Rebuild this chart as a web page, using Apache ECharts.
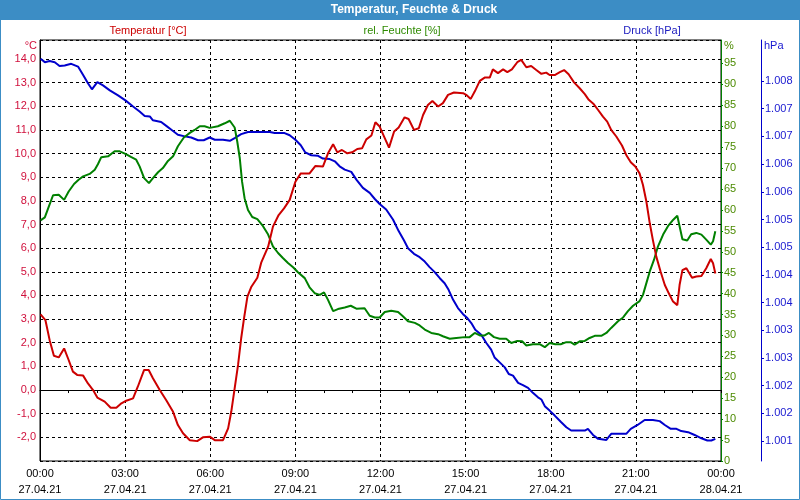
<!DOCTYPE html>
<html><head><meta charset="utf-8">
<script src="https://cdn.jsdelivr.net/npm/echarts@6/dist/echarts.min.js"></script>
<style>html,body{margin:0;padding:0;background:#fff}#c{width:800px;height:500px}</style>
</head><body><div id="c"></div>
<script>
// time in hours since 27.04.21 00:00
const tempTime = [0.02,0.19,0.34,0.49,0.66,0.85,1.01,1.16,1.31,1.52,1.69,1.87,2.02,2.28,2.49,2.69,2.87,3.04,3.28,3.45,3.67,3.83,3.98,4.22,4.45,4.69,4.86,5.04,5.28,5.54,5.74,5.98,6.16,6.45,6.63,6.74,6.86,6.98,7.09,7.19,7.31,7.45,7.66,7.80,8.04,8.21,8.41,8.60,8.80,9.00,9.19,9.50,9.70,9.97,10.15,10.33,10.48,10.64,10.83,11.00,11.18,11.35,11.50,11.68,11.82,11.97,12.15,12.30,12.48,12.64,12.85,12.99,13.18,13.35,13.50,13.67,13.83,14.03,14.20,14.38,14.59,14.91,15.02,15.18,15.32,15.50,15.67,15.85,15.96,16.14,16.32,16.47,16.63,16.82,16.96,17.14,17.31,17.49,17.67,17.84,17.96,18.14,18.32,18.47,18.63,18.82,19.02,19.20,19.34,19.52,19.67,19.84,19.99,20.13,20.31,20.51,20.66,20.82,20.98,21.13,21.25,21.37,21.49,21.60,21.72,21.87,22.02,22.16,22.31,22.46,22.54,22.64,22.78,22.98,23.13,23.31,23.48,23.64,23.72,23.80];
const tempValues = [3.2,2.96,2.11,1.45,1.38,1.76,1.27,0.78,0.64,0.61,0.28,0.0,-0.32,-0.49,-0.75,-0.75,-0.56,-0.45,-0.35,0.15,0.85,0.85,0.5,0.0,-0.43,-0.92,-1.48,-1.83,-2.12,-2.16,-2.0,-1.97,-2.12,-2.12,-1.62,-0.92,0.07,1.06,2.19,3.03,3.95,4.37,4.75,5.4,6.06,6.91,7.4,7.68,8.04,8.81,9.16,9.16,9.47,9.45,10.01,10.39,10.05,10.15,10.01,10.05,10.19,10.22,10.6,10.76,11.32,11.14,10.65,10.25,10.93,11.1,11.53,11.46,11.0,11.07,11.63,12.05,12.22,11.99,12.13,12.48,12.58,12.55,12.48,12.31,12.62,13.07,13.21,13.21,13.56,13.4,13.56,13.44,13.56,13.86,13.96,13.65,13.7,13.53,13.37,13.42,13.32,13.32,13.44,13.53,13.35,13.01,12.76,12.51,12.27,12.08,11.84,11.56,11.35,11.0,10.72,10.34,9.94,9.63,9.45,9.16,8.67,7.97,7.05,6.34,5.64,5.01,4.44,4.09,3.74,3.59,4.44,5.07,5.15,4.75,4.8,4.82,5.15,5.54,5.36,4.93];

const humTime = [0.02,0.17,0.31,0.46,0.66,0.85,1.01,1.20,1.36,1.52,1.75,1.93,2.04,2.16,2.40,2.63,2.81,3.01,3.22,3.39,3.51,3.67,3.84,3.98,4.16,4.33,4.51,4.69,4.86,5.07,5.28,5.45,5.63,5.80,5.98,6.27,6.51,6.69,6.86,6.95,7.04,7.12,7.21,7.33,7.48,7.66,7.86,8.04,8.21,8.39,8.56,8.74,8.92,9.09,9.33,9.50,9.68,9.86,10.01,10.15,10.33,10.50,10.74,10.95,11.15,11.44,11.62,11.80,11.97,12.15,12.38,12.62,12.79,12.97,13.21,13.38,13.56,13.79,14.03,14.20,14.44,14.67,14.97,15.14,15.32,15.50,15.67,15.82,16.00,16.20,16.43,16.61,16.82,16.99,17.14,17.37,17.61,17.79,17.96,18.16,18.35,18.55,18.70,18.84,19.02,19.20,19.37,19.55,19.78,19.96,20.13,20.37,20.55,20.72,20.90,21.13,21.25,21.37,21.49,21.64,21.78,21.96,22.13,22.31,22.46,22.54,22.64,22.81,22.95,23.13,23.31,23.48,23.64,23.72,23.80];
const humValues = [57.5,58.2,60.8,63.5,63.6,62.4,64.4,66.2,67.2,68.0,68.6,69.6,70.9,72.6,72.8,74.0,74.0,73.4,72.6,72.0,70.4,67.6,66.4,67.6,69.0,70.0,71.7,72.8,75.2,77.3,78.4,79.1,80.0,80.0,79.6,80.0,80.7,81.3,79.7,76.4,72.4,66.8,62.8,60.0,58.3,57.8,56.1,54.1,51.3,49.7,48.5,47.3,46.3,45.1,43.7,41.5,40.1,39.7,40.3,38.5,35.8,36.3,36.7,37.1,36.4,36.5,34.7,34.3,34.3,35.6,35.9,35.6,34.6,33.4,33.0,32.4,31.4,30.6,30.3,29.8,29.2,29.4,29.6,29.6,30.6,30.0,30.0,30.6,29.6,29.2,29.2,28.2,28.7,28.6,27.6,27.9,27.9,27.2,28.2,27.9,27.9,28.4,28.4,27.8,28.6,28.7,29.4,29.9,29.9,30.6,31.8,33.4,34.3,35.8,37.1,38.2,39.7,42.5,45.3,48.1,51.3,54.1,56.1,57.6,58.6,56.1,53.0,52.7,54.2,54.5,54.1,52.9,51.7,52.5,54.9];

const pressTime = [0.02,0.17,0.34,0.52,0.69,0.87,1.10,1.34,1.52,1.69,1.83,2.02,2.22,2.46,2.75,3.01,3.28,3.51,3.69,3.87,3.98,4.27,4.45,4.63,4.86,5.10,5.33,5.57,5.77,5.98,6.16,6.45,6.69,6.86,7.09,7.33,7.68,8.10,8.27,8.62,8.80,9.00,9.19,9.35,9.56,9.80,9.97,10.21,10.39,10.56,10.74,10.97,11.15,11.38,11.62,11.80,11.97,12.20,12.44,12.64,12.83,12.97,13.18,13.38,13.56,13.73,13.91,14.09,14.26,14.40,14.56,14.73,14.91,15.06,15.20,15.34,15.55,15.73,15.90,16.02,16.20,16.38,16.52,16.67,16.85,17.02,17.20,17.37,17.55,17.67,17.79,17.96,18.14,18.37,18.55,18.72,18.96,19.20,19.31,19.49,19.67,19.96,20.13,20.37,20.66,20.82,21.06,21.31,21.60,21.84,22.02,22.23,22.43,22.60,22.84,23.07,23.31,23.52,23.66,23.80];
const pressValues = [1007.90,1007.84,1007.86,1007.84,1007.77,1007.78,1007.81,1007.76,1007.61,1007.46,1007.35,1007.48,1007.42,1007.33,1007.24,1007.15,1007.04,1006.95,1006.87,1006.86,1006.79,1006.76,1006.69,1006.62,1006.53,1006.50,1006.48,1006.43,1006.43,1006.48,1006.44,1006.44,1006.42,1006.47,1006.54,1006.58,1006.58,1006.58,1006.56,1006.56,1006.52,1006.44,1006.34,1006.21,1006.16,1006.15,1006.10,1006.09,1006.05,1005.96,1005.90,1005.86,1005.72,1005.57,1005.48,1005.37,1005.28,1005.18,1005.00,1004.79,1004.62,1004.48,1004.38,1004.32,1004.24,1004.14,1004.05,1003.94,1003.85,1003.73,1003.55,1003.40,1003.29,1003.22,1003.13,1003.01,1002.92,1002.77,1002.65,1002.51,1002.42,1002.33,1002.21,1002.18,1002.05,1002.01,1001.96,1001.87,1001.79,1001.75,1001.63,1001.55,1001.46,1001.34,1001.25,1001.19,1001.19,1001.19,1001.22,1001.11,1001.04,1001.02,1001.13,1001.13,1001.13,1001.22,1001.29,1001.38,1001.38,1001.36,1001.29,1001.22,1001.22,1001.18,1001.16,1001.11,1001.05,1001.01,1001.01,1001.04];

const humidityTicks = [0,5,10,15,20,25,30,35,40,45,50,55,60,65,70,75,80,85,90,95];
const pressureTicks = [1001,1001.5,1002,1002.5,1003,1003.5,1004,1004.5,1005,1005.5,1006,1006.5,1007,1007.5];
const dateLabels = ['27.04.21','28.04.21'];

const FONT = 'Liberation Sans';
function pairs(t, v){ return t.map((x,i)=>[x, v[i]]); }
function hhmm(v){ const h = Math.round(v) % 24; return (h<10?'0':'')+h+':00'; }

const chart = echarts.init(document.getElementById('c'), null, {renderer:'canvas'});
chart.setOption({
  animation:false,
  backgroundColor:'#ffffff',
  grid:{left:40,right:79,top:40,bottom:39,show:true,borderColor:'#000',borderWidth:1,backgroundColor:'transparent'},
  xAxis:{
    type:'value',min:0,max:24,interval:3,
    axisLine:{show:true,lineStyle:{color:'#000',width:1}},
    axisTick:{show:true,length:3,lineStyle:{color:'#000'}},
    minorTick:{show:true,splitNumber:3,length:3,lineStyle:{color:'#000'}},
    splitLine:{show:true,lineStyle:{color:'#000',type:[3,3],width:1}},
    axisLabel:{
      formatter:v=>hhmm(v)+'\n'+(v>=24?dateLabels[1]:dateLabels[0]),
      color:'#000',fontFamily:FONT,fontSize:11,lineHeight:16,margin:5,
      showMinLabel:true,showMaxLabel:true
    }
  },
  yAxis:[
    {
      type:'value',min:-3,max:14.8,interval:1,position:'left',
      axisLine:{show:true,lineStyle:{color:'#000'}},
      axisTick:{show:false},
      splitLine:{show:true,lineStyle:{color:'#000',type:[3,3],width:1}},
      axisLabel:{showMinLabel:false,showMaxLabel:false,formatter:v=>v.toFixed(1).replace('.',','),
        color:'#d0103c',fontFamily:FONT,fontSize:11,margin:4}
    },
    {
      type:'value',min:0,max:100.6,position:'right',
      axisLine:{show:true,lineStyle:{color:'#008000',width:1}},
      axisTick:{show:true,length:2,customValues:humidityTicks,lineStyle:{color:'#008000'}},
      splitLine:{show:false},
      axisLabel:{customValues:humidityTicks,color:'#4b8a00',fontFamily:FONT,fontSize:11,margin:3}
    },
    {
      type:'value',min:1000.64,max:1008.24,position:'right',offset:40,
      axisLine:{show:true,lineStyle:{color:'#0000cc',width:1}},
      axisTick:{show:true,length:3,customValues:pressureTicks,lineStyle:{color:'#0000cc'}},
      splitLine:{show:false},
      axisLabel:{customValues:pressureTicks,formatter:v=>{const s=String(Math.round(v));return s[0]+'.'+s.slice(1);},
        color:'#1818d0',fontFamily:FONT,fontSize:11,margin:4}
    }
  ],
  series:[
    {name:'Druck',type:'line',yAxisIndex:2,data:pairs(pressTime,pressValues),showSymbol:false,lineStyle:{color:'#0000cc',width:2},itemStyle:{color:'#0000cc'}},
    {name:'Feuchte',type:'line',yAxisIndex:1,data:pairs(humTime,humValues),showSymbol:false,lineStyle:{color:'#008000',width:2},itemStyle:{color:'#008000'}},
    {name:'Temperatur',type:'line',yAxisIndex:0,data:pairs(tempTime,tempValues),showSymbol:false,lineStyle:{color:'#cc0000',width:2},itemStyle:{color:'#cc0000'}}
  ],
  graphic:[
    {type:'rect',z:-10,shape:{x:0,y:0,width:800,height:20},style:{fill:'#3c8dc5'}},
    {type:'rect',z:100,shape:{x:0.5,y:0.5,width:799,height:499},style:{fill:null,stroke:'#3c8dc5',lineWidth:1}},
    {type:'text',x:414,y:10,style:{text:'Temperatur, Feuchte & Druck',fill:'#fff',font:'bold 12px "Liberation Sans"',textAlign:'center',textVerticalAlign:'middle'}},
    {type:'text',x:148,y:31,style:{text:'Temperatur [°C]',fill:'#cc0000',font:'11px "Liberation Sans"',textAlign:'center',textVerticalAlign:'middle'}},
    {type:'text',x:402,y:31,style:{text:'rel. Feuchte [%]',fill:'#2e8a00',font:'11px "Liberation Sans"',textAlign:'center',textVerticalAlign:'middle'}},
    {type:'text',x:652,y:31,style:{text:'Druck [hPa]',fill:'#2020c0',font:'11px "Liberation Sans"',textAlign:'center',textVerticalAlign:'middle'}},
    {type:'text',x:37,y:46,style:{text:'°C',fill:'#d0103c',font:'11px "Liberation Sans"',textAlign:'right',textVerticalAlign:'middle'}},
    {type:'text',x:724,y:46,style:{text:'%',fill:'#4b8a00',font:'11px "Liberation Sans"',textAlign:'left',textVerticalAlign:'middle'}},
    {type:'text',x:764,y:46,style:{text:'hPa',fill:'#1818d0',font:'11px "Liberation Sans"',textAlign:'left',textVerticalAlign:'middle'}}
  ]
});
</script></body></html>
